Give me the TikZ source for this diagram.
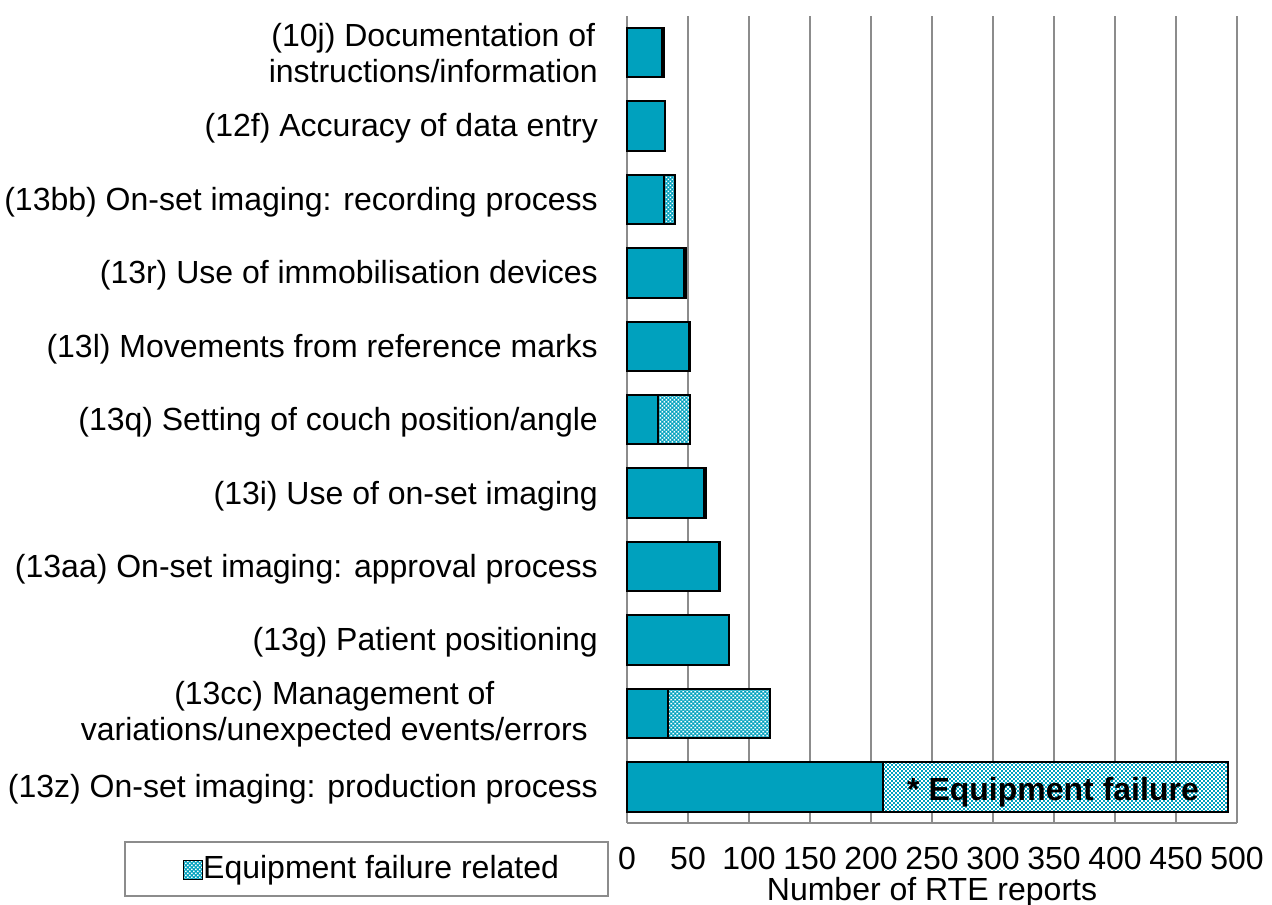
\documentclass[tikz,border=0pt]{standalone}
\usepackage{fontspec}
\setmainfont{Liberation Sans}

\definecolor{barteal}{RGB}{0,161,190}
\definecolor{gridgray}{RGB}{140,140,140}

% white dots over a teal box, for the equipment failure part
\newcommand\eqdots[4]{% x0, y0, x1, y1
  \pgfmathsetmacro{\eqxn}{#1+4}
  \pgfmathsetmacro{\eqyn}{#2+4}
  \begin{scope}
    \clip (#1,#2) rectangle (#3,#4);
    \fill[white] \foreach \u in {#1,\eqxn,...,#3} {
      \foreach \v in {#2,\eqyn,...,#4} {
        (\u,\v) rectangle ++(1.6,1.6) ({\u+2},{\v+2}) rectangle ++(1.6,1.6)}};
  \end{scope}}

\begin{document}
\begin{tikzpicture}[x=1pt,y=-1pt,
  font=\fontsize{32}{36}\selectfont,
  grid/.style={draw=gridgray,line width=2pt},
  plain/.style={draw=black,line width=2pt,fill=barteal},
  failed/.style={draw=black,line width=2pt},
  cat/.style={anchor=east,align=center,inner sep=0pt},
  tick/.style={anchor=base,inner sep=0pt}]
\useasboundingbox (0,0) rectangle (1272,905);

% grid and axis
\foreach \k in {0,...,10} {
  \draw[grid] ({627+61*\k},16) -- ({627+61*\k},823);
  \pgfmathtruncatemacro{\val}{50*\k}
  \path ({627+61*\k},869) node[tick] (tick\k) {\val};
}
\draw[grid] (627,823) -- (1237,823);
\path (932,900) node[tick] (xtitle) {Number of RTE reports};

% bars: row / total without failure / failure related
\foreach \i/\a/\b in {0/29/1,1/31/0,2/30/9,3/47/1,4/51/1,5/25/27,
                      6/63/2,7/75/1,8/84/0,9/34/83,10/210/283} {
  \pgfmathsetmacro{\t}{27.7+73.45*\i}
  \pgfmathsetmacro{\xa}{627+1.22*\a}
  \pgfmathsetmacro{\xb}{627+1.22*(\a+\b)}
  \pgfmathsetmacro{\tb}{\t+49.5}
  \draw[plain] (627,\t) rectangle (\xa,\tb);
  \ifnum\b>0
    \fill[barteal] (\xa,\t) rectangle (\xb,\tb);
    \eqdots{\xa}{\t}{\xb}{\tb}
    \draw[failed] (\xa,\t) rectangle (\xb,\tb);
  \fi
}
\path (1053,800) node[tick,font=\fontsize{32}{36}\selectfont\bfseries] (eqfail) {* Equipment failure};

% category labels
\path (598,53.5) node[cat] (c10j) {(10j) Documentation of\\instructions/information};
\path (598,128.5) node[cat] (c12f) {(12f) Accuracy of data entry};
\path (598,202) node[cat] (c13bb) {(13bb) On-set imaging: recording process};
\path (598,275.4) node[cat] (c13r) {(13r) Use of immobilisation devices};
\path (598,348.9) node[cat] (c13l) {(13l) Movements from reference marks};
\path (598,422.3) node[cat] (c13q) {(13q) Setting of couch position/angle};
\path (598,495.8) node[cat] (c13i) {(13i) Use of on-set imaging};
\path (598,569.2) node[cat] (c13aa) {(13aa) On-set imaging: approval process};
\path (598,642.7) node[cat] (c13g) {(13g) Patient positioning};
\path (588,714) node[cat] (c13cc) {(13cc) Management of\\variations/unexpected events/errors};
\path (598,789.6) node[cat] (c13z) {(13z) On-set imaging: production process};

% legend
\path (124,841) node[draw=gridgray,line width=1.5pt,anchor=north west,
  minimum width=483pt,minimum height=54pt] (legbox) {};
\fill[barteal] (183,860.5) rectangle (202,879.5);
\eqdots{183}{860.5}{202}{879.5}
\path (192.5,870) node[failed,line width=1pt,minimum size=19pt,inner sep=0pt] (legkey) {};
\path (203,878.5) node[anchor=base west,inner sep=0pt] (legtext) {Equipment failure related};
\end{tikzpicture}
\end{document}
